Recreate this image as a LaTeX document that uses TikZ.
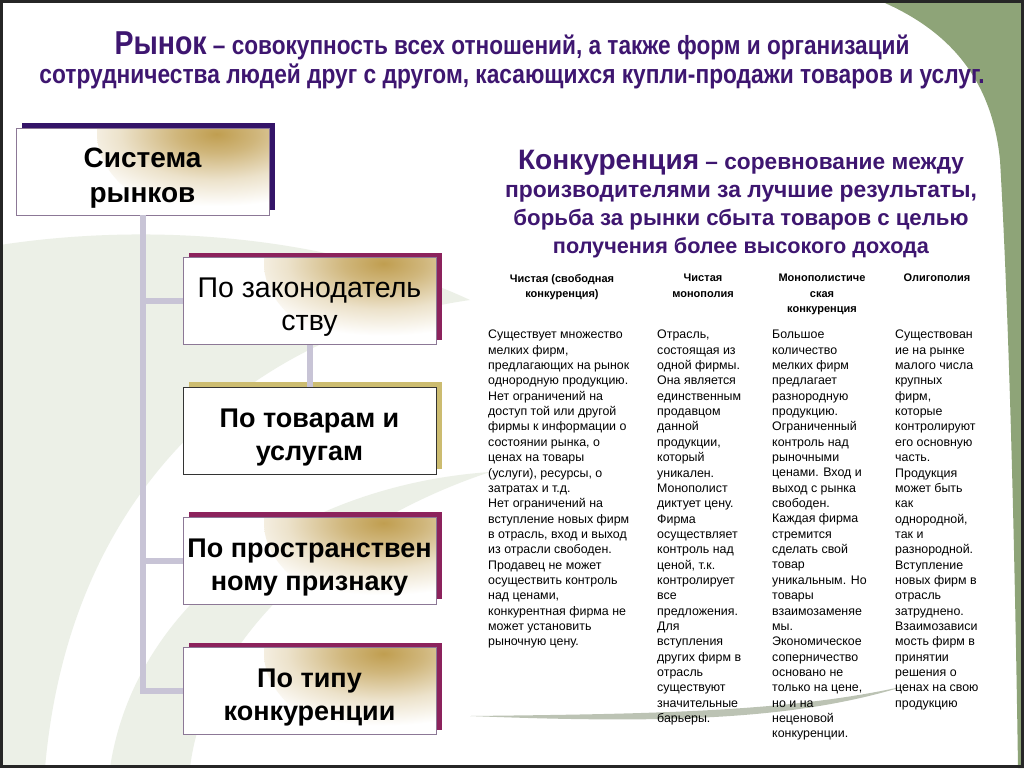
\documentclass[tikz,border=0pt]{standalone}
\usepackage{fontspec}
\setmainfont{Liberation Sans}
\newfontfamily\narrowsans[FakeStretch=0.86]{Liberation Sans}
\usetikzlibrary{shadows}
\definecolor{ttl}{RGB}{62,22,112}
\definecolor{sage}{RGB}{142,164,120}
\definecolor{pale}{RGB}{236,240,231}
\definecolor{connc}{RGB}{200,196,214}
\definecolor{gold}{RGB}{192,158,80}
\definecolor{shpurple}{RGB}{52,20,104}
\definecolor{shmaroon}{RGB}{140,34,92}
\definecolor{shkhaki}{RGB}{204,188,112}
\definecolor{boxedge}{RGB}{140,120,150}
\pgfdeclareradialshading{goldglow}{\pgfpoint{0bp}{0bp}}{color(0bp)=(gold); color(5bp)=(gold!75!white); color(12bp)=(gold!30!white); color(19bp)=(white); color(50bp)=(white)}
\newcommand{\lowr}{\rule{0pt}{32pt}}
\tikzset{
  boxnode/.style={draw=boxedge, line width=0.8pt, fill=white, minimum width=253pt,
    minimum height=87pt, align=center, inner sep=0pt, font=\bfseries\fontsize{27}{33}\selectfont},
  goldfade/.style={path picture={\shade[shading=goldglow]
    ([xshift=-12pt,yshift=-6pt]path picture bounding box.north east) ellipse (160pt and 95pt);}},
  backplate/.style={general shadow={fill=#1, shadow xshift=6pt, shadow yshift=5pt}},
  conn/.style={draw=connc, line width=6pt},
  colbody/.style={align=left, inner sep=0pt, anchor=north west, font=\fontsize{12.4}{15.35}\selectfont},
  colhead/.style={align=center, inner sep=0pt, anchor=north, font=\bfseries\fontsize{11}{15.5}\selectfont},
}
\begin{document}
\begin{tikzpicture}[x=1pt,y=-1pt]
\useasboundingbox (0,0) rectangle (1024,768);
\fill[white] (0,0) rectangle (1024,768);
% background decoration
\fill[pale] (0,245) .. controls (150,222) and (330,235) .. (470,300)
  .. controls (260,330) and (70,480) .. (45,768) -- (0,768) -- cycle;
\fill[pale] (110,768) .. controls (135,600) and (300,485) .. (490,472)
  .. controls (330,525) and (205,640) .. (190,768) -- cycle;
\fill[sage] (878,0) .. controls (950,30) and (992,80) .. (1000,160)
  .. controls (1008,300) and (1014,500) .. (1018,768) -- (1024,768) -- (1024,0) -- cycle;
\fill[black!25!sage, opacity=0.45] (470,716) .. controls (650,723) and (790,722) .. (905,686)
  .. controls (790,712) and (650,714) .. (470,716) -- cycle;
\draw[line width=3pt, black!85] (1.5,1.5) rectangle (1022.5,766.5);

% title
\node[anchor=north, align=center, text=ttl, inner sep=0pt,
  font=\narrowsans\bfseries\fontsize{27}{29}\selectfont] (title) at (512,32)
  {\resizebox{795pt}{!}{{\fontsize{34}{34}\selectfont Рынок} – совокупность всех отношений, а также форм и организаций}\\
   \resizebox{945pt}{!}{сотрудничества людей друг с другом, касающихся купли-продажи товаров и услуг.}};

% definition of competition
\node[anchor=north, align=center, text=ttl, inner sep=0pt,
  font=\bfseries\fontsize{21}{28}\selectfont] (konk) at (741,150)
  {\resizebox{446pt}{!}{{\fontsize{26}{26}\selectfont Конкуренция} – соревнование между}\\
   \resizebox{472pt}{!}{производителями за лучшие результаты,}\\
   \resizebox{455pt}{!}{борьба за рынки сбыта товаров с целью}\\
   \resizebox{376pt}{!}{получения более высокого дохода}};

% left hierarchy
\node[boxnode, backplate=shpurple, goldfade, font=\bfseries\fontsize{28}{35}\selectfont]
  (sys) at (142.5,171.5) {\lowr Система\\рынков};
\node[boxnode, backplate=shmaroon, goldfade, font=\mdseries\fontsize{28.5}{33}\selectfont]
  (b2) at (309.5,301) {\lowr По законодатель\\ству};
\node[boxnode, backplate=shkhaki, draw=black!80]
  (b3) at (309.5,430.5) {\lowr По товарам и\\услугам};
\node[boxnode, backplate=shmaroon, goldfade]
  (b4) at (309.5,560.5) {\lowr По пространствен\\ному признаку};
\node[boxnode, backplate=shmaroon, goldfade]
  (b5) at (309.5,691) {\lowr По типу\\конкуренции};

\draw[conn] (sys.south) |- (b5.west);
\draw[conn] (sys.south) |- (b2.west);
\draw[conn] (sys.south) |- (b4.west);
\draw[conn] (b2.south) -- (b3.north);

% table headers
\node[colhead] (h1) at (562,274) {Чистая (свободная\\конкуренция)};
\node[colhead] (h2) at (703,274) {Чистая\\монополия};
\node[colhead] (h3) at (822,274) {Монополистиче\\ская\\конкуренция};
\node[colhead] (h4) at (937,274) {Олигополия};

% table bodies
\node[colbody] (c1) at (488,330) {Существует множество\\мелких фирм,\\предлагающих на рынок\\однородную продукцию.\\Нет ограничений на\\доступ той или другой\\фирмы к информации о\\состоянии рынка, о\\ценах на товары\\(услуги), ресурсы, о\\затратах и т.д.\\Нет ограничений на\\вступление новых фирм\\в отрасль, вход и выход\\из отрасли свободен.\\Продавец не может\\осуществить контроль\\над ценами,\\конкурентная фирма не\\может установить\\рыночную цену.};
\node[colbody] (c2) at (657,330) {Отрасль,\\состоящая из\\одной фирмы.\\Она является\\единственным\\продавцом\\данной\\продукции,\\который\\уникален.\\Монополист\\диктует цену.\\Фирма\\осуществляет\\контроль над\\ценой, т.к.\\контролирует\\все\\предложения.\\Для\\вступления\\других фирм в\\отрасль\\существуют\\значительные\\барьеры.};
\node[colbody] (c3) at (772,330) {Большое\\количество\\мелких фирм\\предлагает\\разнородную\\продукцию.\\Ограниченный\\контроль над\\рыночными\\ценами. Вход и\\выход с рынка\\свободен.\\Каждая фирма\\стремится\\сделать свой\\товар\\уникальным. Но\\товары\\взаимозаменяе\\мы.\\Экономическое\\соперничество\\основано не\\только на цене,\\но и на\\неценовой\\конкуренции.};
\node[colbody] (c4) at (895,330) {Существован\\ие на рынке\\малого числа\\крупных\\фирм,\\которые\\контролируют\\его основную\\часть.\\Продукция\\может быть\\как\\однородной,\\так и\\разнородной.\\Вступление\\новых фирм в\\отрасль\\затруднено.\\Взаимозависи\\мость фирм в\\принятии\\решения о\\ценах на свою\\продукцию};
\end{tikzpicture}
\end{document}
